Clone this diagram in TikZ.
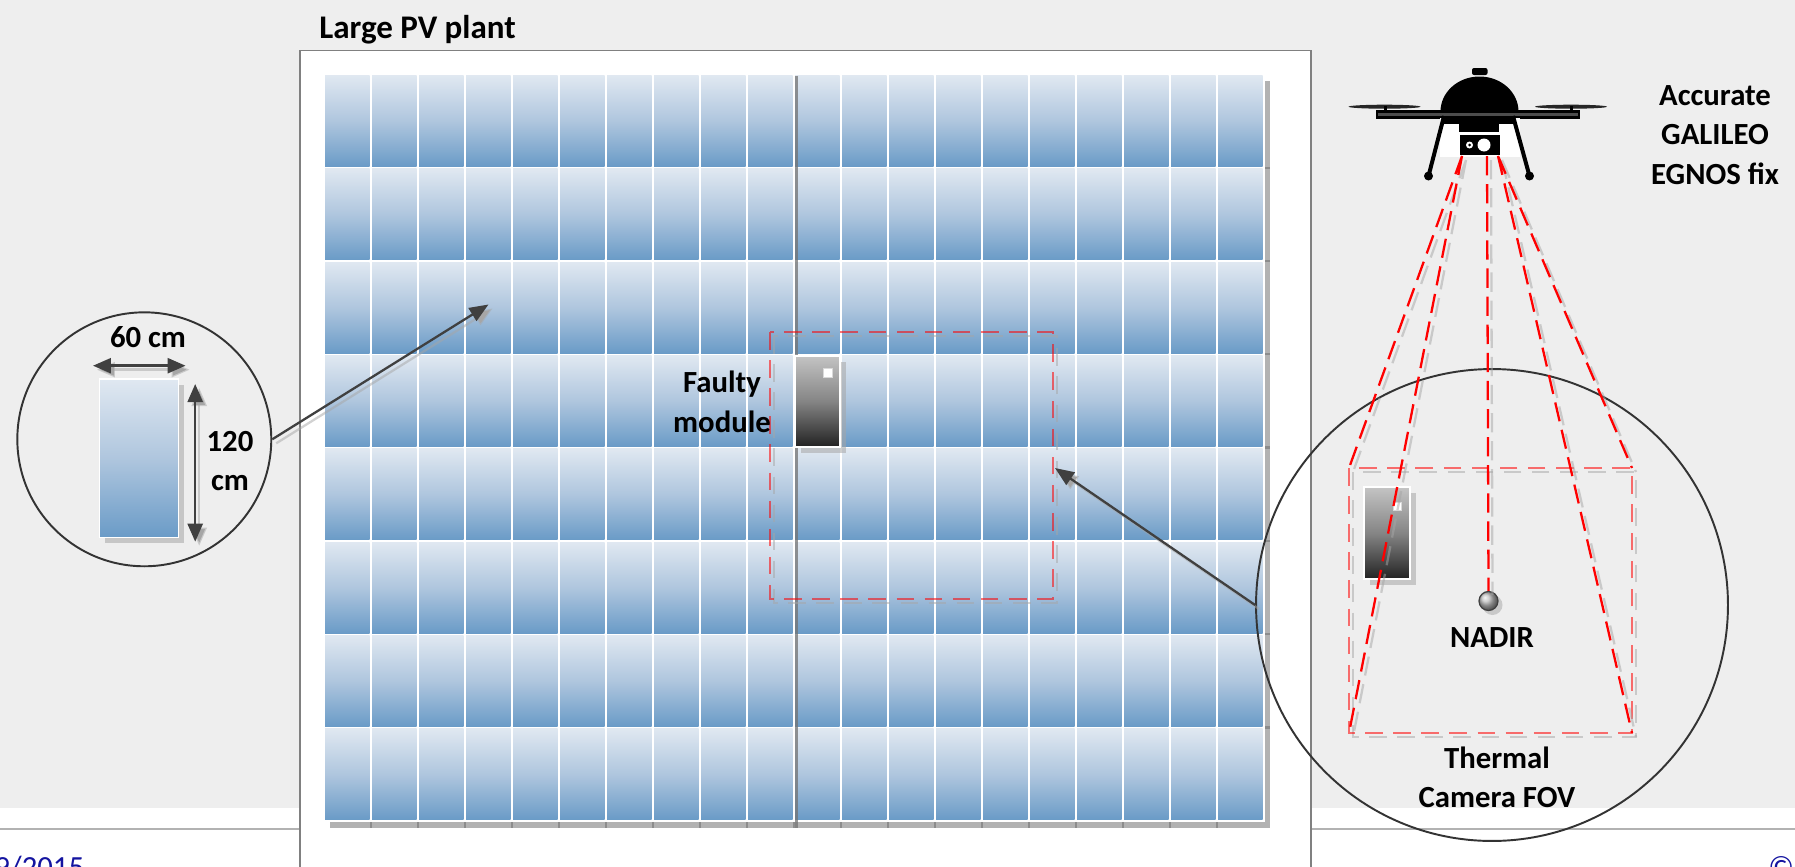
\documentclass[tikz,border=0pt]{standalone}
\usepackage{fontspec}
\setmainfont{Carlito}
\usetikzlibrary{arrows.meta}

\definecolor{bgGray}{HTML}{EEEEEE}
\definecolor{pvTop}{HTML}{E0E8F1}
\definecolor{pvMid}{HTML}{AFC6DE}
\definecolor{pvBot}{HTML}{6A9BC7}
\definecolor{hotTop}{HTML}{C4C4C4}
\definecolor{hotMid}{HTML}{858585}
\definecolor{hotBot}{HTML}{232323}
\definecolor{footBlue}{HTML}{1414A0}

\begin{document}
\begin{tikzpicture}[x=0.02cm, y=-0.02cm,
    lbl/.style={font=\fontsize{17.5}{22.5}\selectfont\bfseries, align=center, inner sep=0pt},
    foot/.style={font=\fontsize{17.5}{22.5}\selectfont, text=footBlue, inner sep=0pt},
    panel/.style={top color=pvTop, bottom color=pvBot, middle color=pvMid},
    hotpanel/.style={top color=hotTop, bottom color=hotBot, middle color=hotMid},
    shadowfill/.style={fill=black!35, fill opacity=0.55},
    ghost/.style={draw=black!35, draw opacity=0.5, transform canvas={shift={(0.08cm,-0.08cm)}}},
    fovline/.style={draw=red, line width=1.3pt, dash pattern=on 11pt off 5pt},
    fovbox/.style={draw=red, draw opacity=0.55, line width=1.4pt, dash pattern=on 10pt off 6pt},
    pointer/.style={draw=black!75, line width=1.3pt, -{Triangle[length=0.38cm, width=0.3cm]}},
    dim/.style={draw=black!75, line width=1.4pt, {Triangle[length=0.36cm, width=0.3cm]}-{Triangle[length=0.36cm, width=0.3cm]}},
    lensring/.style={circle, draw=black!80, line width=1.1pt, inner sep=0pt},
    nadirdot/.style={circle, draw=black!75, line width=0.7pt, ball color=black!25, minimum size=0.38cm, inner sep=0pt}
]
    \useasboundingbox (0,0) rectangle (1795,866);
    \clip (0,0) rectangle (1795,866);

    % --- 1. 背景與頁尾 ---
    \fill[bgGray] (0,0) rectangle (1795,808);
    \draw[black!30, line width=0.8pt] (0,829) -- (1795,829);
    \node[foot, anchor=north west] (date) at (-6,856) {9/2015};
    \node[foot, anchor=north west] (copy) at (1768,856) {©};

    % --- 2. 電廠外框 ---
    \draw[draw=black!50, fill=white, line width=1.1pt] (300,50.5) rectangle (1311,900);
    \node[lbl, font=\fontsize{18.8}{22.5}\selectfont\bfseries, anchor=base west] (plantLbl) at (319,38) {Large PV plant};

    % --- 3. 模組陣列 (20 x 8) ---
    \def\pitchX{47}
    \def\pitchY{93.3}
    \def\modW{44.5}
    \def\modH{91}
    \fill[black!30] (330,81) rectangle (1270,828);
    \fill[white] (325,75.5) rectangle (1265,822);
    \foreach \c in {0,...,19}
        \foreach \r in {0,...,7}
            \shade[panel] ({325+\pitchX*\c},{75.5+\pitchY*\r}) rectangle +(\modW,\modH);
    \foreach \c in {1,...,19}
        \fill[black!45] ({325+\pitchX*\c-2.5},822) rectangle +(2.5,6);
    \foreach \r in {1,...,7}
        \fill[black!45] (1265,{75.5+\pitchY*\r-2.3}) rectangle +(5,2.3);
    \draw[black!55, line width=1.6pt, opacity=0.75] (796.5,75.5) -- (796.5,828);

    % --- 4. 故障模組與熱像範圍 ---
    \fill[shadowfill] (801,362) rectangle +(\modW,\modH);
    \shade[hotpanel, draw=white, line width=0.04cm] (795,355.5) rectangle +(\modW,\modH);
    \fill[white, draw=black!15, line width=0.3pt] (823,368.5) rectangle +(9,8.5);
    \draw[fovbox, ghost] (770,332) rectangle (1053,599);
    \draw[fovbox] (770,332) rectangle (1053,599);
    \node[lbl] (faultLbl) at (722,402) {Faulty\\module};
    \coordinate (boxHit) at (1055,468);

    % --- 5. 左側放大圈: 模組尺寸 ---
    \node[lensring, minimum size=5.08cm] (sizeLens) at (144.3,439.3) {};
    \fill[shadowfill] (105,385) rectangle (184,543);
    \shade[panel, draw=white, line width=0.03cm] (99.5,379) rectangle (178.7,537.3);
    \coordinate (wL) at (93,365.7);
    \coordinate (wR) at (185.6,365.7);
    \coordinate (hT) at (195.2,384);
    \coordinate (hB) at (195.2,541.7);
    \draw[dim, ghost] (wL) -- (wR);
    \draw[dim, ghost] (hT) -- (hB);
    \draw[dim] (wL) -- (wR);
    \draw[dim] (hT) -- (hB);
    \node[lbl, anchor=base] (widthLbl) at (148,347.7) {60 cm};
    \node[lbl] (heightLbl) at (230,461) {120\\cm};
    \coordinate (pvHit) at (488.5,304.5);
    \draw[pointer, ghost] (sizeLens.east) -- (pvHit);
    \draw[pointer] (sizeLens.east) -- (pvHit);

    % --- 6. 右側放大圈: 熱像視野 ---
    \node[lensring, minimum size=9.44cm] (fovLens) at (1492,605) {};
    \coordinate (fovTL) at (1349,468);
    \coordinate (fovTR) at (1632,468);
    \coordinate (fovBL) at (1349,733);
    \coordinate (fovBR) at (1632,733);
    \draw[fovbox, ghost] (fovTL) rectangle (fovBR);
    \draw[fovbox] (fovTL) rectangle (fovBR);
    \fill[shadowfill] (1370,493) rectangle +(46,92);
    \shade[hotpanel, draw=white, line width=0.04cm] (1364,487) rectangle +(46,92);
    \fill[white, draw=black!15, line width=0.3pt] (1393,502) rectangle +(8.5,8);
    \fill[black!35, opacity=0.5] (1492.5,605) circle[radius=0.2cm];
    \node[nadirdot] (nadir) at (1488.5,601) {};
    \node[lbl, anchor=base] (nadirLbl) at (1492,647) {NADIR};
    \node[lbl] (fovLbl) at (1497,777.5) {Thermal\\Camera FOV};
    \draw[pointer, ghost] (fovLens.west) -- (boxHit);
    \draw[pointer] (fovLens.west) -- (boxHit);

    % --- 7. 無人機 ---
    \fill[black!85] (1384.5,106.7) ellipse [x radius=0.72cm, y radius=0.04cm];
    \fill[black!85] (1571,106.7) ellipse [x radius=0.72cm, y radius=0.04cm];
    \draw[line width=0.06cm] (1385,106) -- (1385,112) (1571,106) -- (1571,112);
    \fill[rounded corners=0.04cm] (1472,68) rectangle (1487.5,75);
    \fill (1440.5,111.5) arc[start angle=180, end angle=0, x radius=0.78cm, y radius=0.7cm] -- cycle;
    \draw[draw=black, fill=black!70, line width=0.05cm] (1377,111.5) rectangle (1579,117.5);
    \fill[white] (1440,118) rectangle (1520,157);
    \fill (1443,117) rectangle (1514,124);
    \fill (1459,124) rectangle (1499,131.5);
    \fill (1460,135) rectangle (1500,154.5);
    \fill[white] (1484,145) circle[radius=0.13cm];
    \fill[white] (1469.5,145) circle[radius=0.07cm];
    \fill (1469.5,145) circle[radius=0.03cm];
    \draw[line width=0.08cm] (1444,116) -- (1428.5,176) (1513,116) -- (1529.5,176);
    \fill (1428.5,176) circle[radius=0.09cm] (1529.5,176) circle[radius=0.09cm];
    \node[lbl] (gnssLbl) at (1715,135) {Accurate\\GALILEO\\EGNOS fix};

    % --- 8. 相機視錐 ---
    \coordinate (camL) at (1462,156);
    \coordinate (camC) at (1487,156);
    \coordinate (camR) at (1498,156);
    \draw[fovline, ghost] (camL) -- (fovTL) (camL) -- (fovBL) (camC) -- (nadir.north)
        (camR) -- (fovBR) (camR) -- (fovTR);
    \draw[fovline] (camL) -- (fovTL) (camL) -- (fovBL) (camC) -- (nadir.north)
        (camR) -- (fovBR) (camR) -- (fovTR);
\end{tikzpicture}
\end{document}
